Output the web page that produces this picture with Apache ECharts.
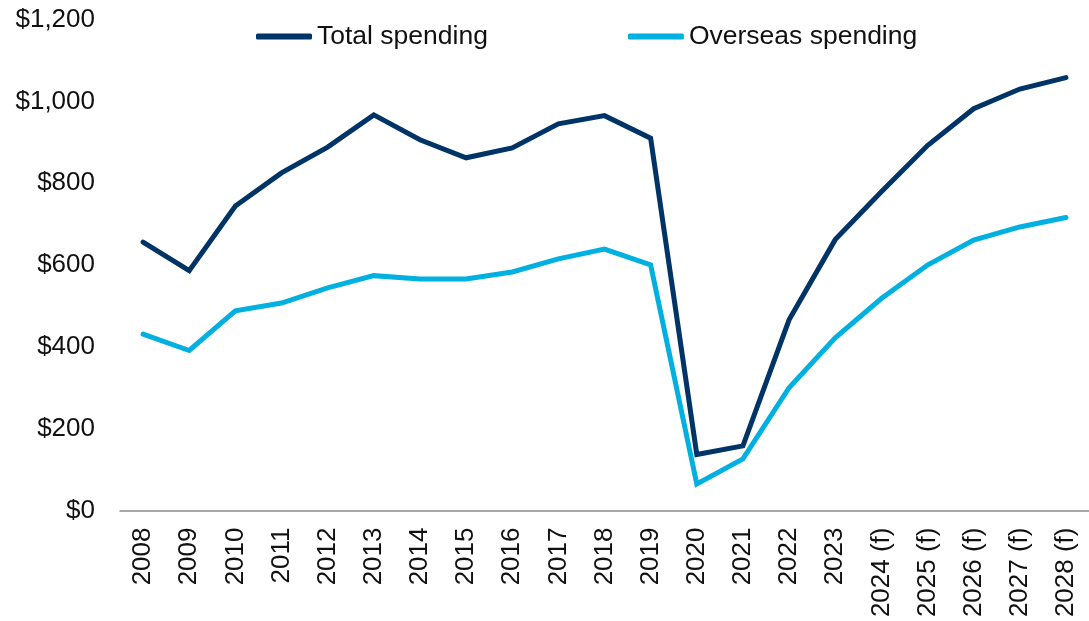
<!DOCTYPE html>
<html>
<head>
<meta charset="utf-8">
<script src="https://cdn.jsdelivr.net/npm/echarts@6/dist/echarts.min.js"></script>
<style>
  html, body { margin: 0; padding: 0; background: #fff; }
  #chart { width: 1089px; height: 621px; }
</style>
</head>
<body>
<div id="chart"></div>
<script>
// Spending by year, $ (2024 onward are forecasts)
const years = ['2008', '2009', '2010', '2011', '2012', '2013', '2014', '2015', '2016', '2017',
  '2018', '2019', '2020', '2021', '2022', '2023', '2024 (f)', '2025 (f)', '2026 (f)', '2027 (f)', '2028 (f)'];
const totalSpending = [656, 586, 744, 825, 888, 967, 906, 862, 886, 945,
  965, 910, 137, 158, 466, 662, 779, 892, 982, 1030, 1058];
const overseasSpending = [431, 391, 488, 507, 544, 574, 566, 566, 583, 615,
  639, 600, 65, 126, 300, 422, 518, 600, 661, 693, 716];
const yTicks = { min: 0, max: 1200, step: 200 };

const FONT = '"Liberation Sans", Arial, sans-serif';
const NAVY = '#003366';
const CYAN = '#00B0E0';

const chart = echarts.init(document.getElementById('chart'), null, { renderer: 'canvas' });

chart.setOption({
  animation: false,
  backgroundColor: '#ffffff',
  textStyle: { fontFamily: FONT },
  legend: {
    left: 251,
    top: 18,
    itemWidth: 56,
    itemHeight: 6,
    itemGap: 140,
    icon: 'roundRect',
    textStyle: { fontFamily: FONT, fontSize: 26.5, color: '#111' },
    data: ['Total spending', 'Overseas spending']
  },
  grid: { left: 120, right: -9, top: 19.5, bottom: 110.5, containLabel: false },
  xAxis: {
    type: 'category',
    data: years,
    boundaryGap: true,
    axisLine: { show: true, lineStyle: { color: '#8c8c8c', width: 1.5 } },
    axisTick: { show: false },
    axisLabel: {
      rotate: 90,
      margin: 17,
      interval: 0,
      fontFamily: FONT,
      fontSize: 26,
      color: '#111'
    },
    splitLine: { show: false }
  },
  yAxis: {
    type: 'value',
    min: yTicks.min,
    max: yTicks.max,
    interval: yTicks.step,
    axisLine: { show: false },
    axisTick: { show: false },
    splitLine: { show: false },
    axisLabel: {
      margin: 25,
      fontFamily: FONT,
      fontSize: 26,
      color: '#111',
      formatter: v => '$' + v.toLocaleString('en-US')
    }
  },
  series: [
    {
      name: 'Total spending',
      type: 'line',
      data: totalSpending,
      showSymbol: false,
      symbol: 'none',
      itemStyle: { color: NAVY },
      lineStyle: { color: NAVY, width: 5, cap: 'round', join: 'miter' }
    },
    {
      name: 'Overseas spending',
      type: 'line',
      data: overseasSpending,
      showSymbol: false,
      symbol: 'none',
      itemStyle: { color: CYAN },
      lineStyle: { color: CYAN, width: 5, cap: 'round', join: 'miter' }
    }
  ]
});
</script>
</body>
</html>
